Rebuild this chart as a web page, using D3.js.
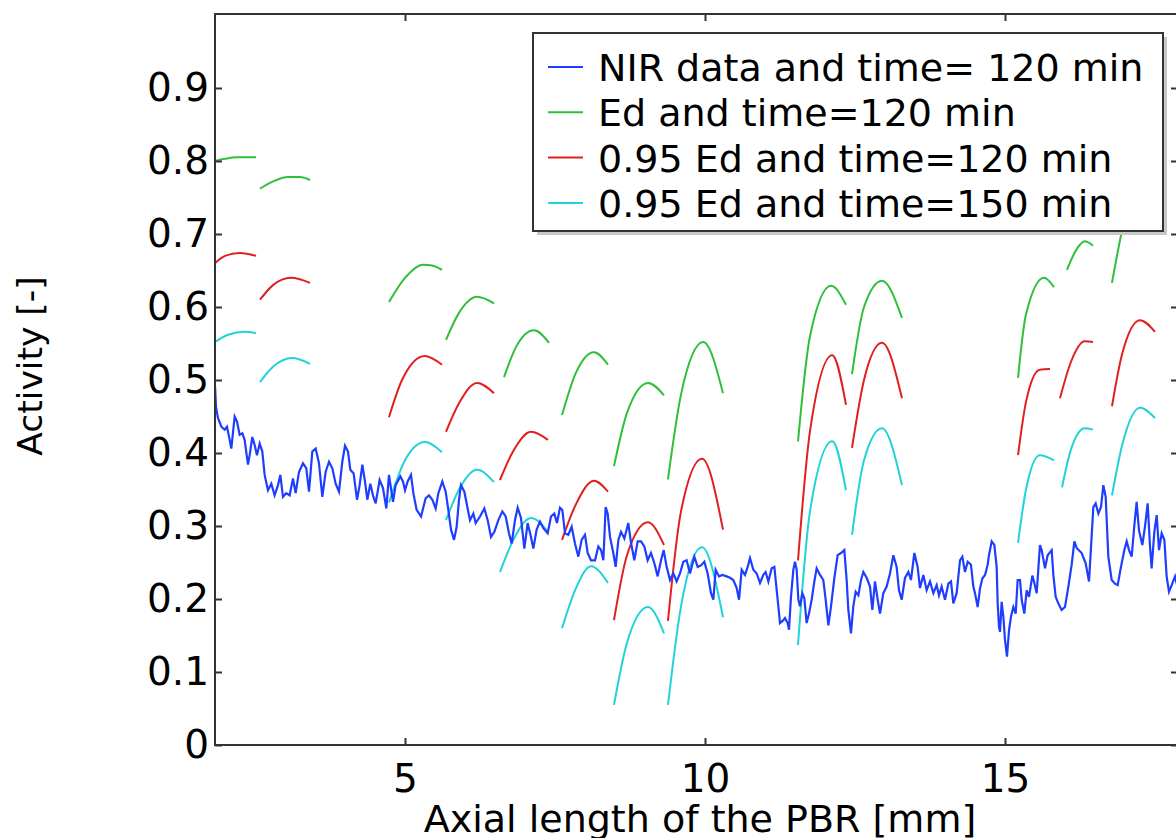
<!DOCTYPE html>
<html lang="en">
<head>
  <meta charset="UTF-8">
  <script src="https://d3js.org/d3.v7.min.js"></script>
  <title>Activity</title>
  <style>
    body { margin: 0; background: #fff; }
    text { font-family: "DejaVu Sans", sans-serif; fill: #000; }
  </style>
</head>
<body>
  <script>
    // NIR measurement, [axial length mm, activity]
    const nirData = [
      [1.835,0.490],[1.85,0.463],[1.883,0.448],[1.939,0.436],[1.994,0.432],[2.033,0.436],[2.078,0.418],[2.105,0.406],
      [2.161,0.450],[2.2,0.443],[2.244,0.425],[2.289,0.427],[2.327,0.418],[2.383,0.384],[2.411,0.397],[2.455,0.422],
      [2.494,0.411],[2.533,0.397],[2.578,0.413],[2.622,0.402],[2.661,0.370],[2.716,0.349],[2.772,0.358],[2.827,0.342],
      [2.883,0.356],[2.922,0.370],[2.966,0.340],[3.022,0.345],[3.077,0.342],[3.133,0.365],[3.177,0.345],[3.233,0.374],
      [3.3,0.386],[3.355,0.379],[3.4,0.347],[3.455,0.402],[3.511,0.406],[3.566,0.386],[3.622,0.340],[3.677,0.374],
      [3.733,0.388],[3.789,0.379],[3.844,0.358],[3.9,0.347],[3.955,0.388],[4.0,0.410],[4.05,0.402],[4.089,0.377],
      [4.144,0.372],[4.2,0.336],[4.244,0.356],[4.289,0.384],[4.333,0.361],[4.372,0.336],[4.422,0.358],[4.466,0.342],
      [4.511,0.331],[4.577,0.363],[4.633,0.352],[4.689,0.324],[4.733,0.370],[4.8,0.333],[4.844,0.356],[4.922,0.368],
      [4.966,0.361],[5.0,0.349],[5.044,0.361],[5.1,0.370],[5.139,0.345],[5.194,0.322],[5.267,0.313],[5.344,0.338],
      [5.4,0.342],[5.456,0.336],[5.511,0.324],[5.556,0.345],[5.622,0.361],[5.678,0.347],[5.722,0.322],[5.767,0.295],
      [5.817,0.281],[5.861,0.299],[5.9,0.336],[5.933,0.356],[5.989,0.347],[6.044,0.324],[6.083,0.308],[6.139,0.317],
      [6.178,0.304],[6.25,0.313],[6.322,0.324],[6.378,0.308],[6.433,0.285],[6.489,0.292],[6.556,0.308],[6.622,0.320],
      [6.678,0.313],[6.733,0.290],[6.778,0.276],[6.833,0.308],[6.878,0.325],[6.933,0.311],[6.989,0.269],[7.044,0.304],
      [7.1,0.285],[7.139,0.269],[7.194,0.295],[7.25,0.306],[7.306,0.297],[7.378,0.290],[7.433,0.313],[7.489,0.317],
      [7.533,0.304],[7.583,0.325],[7.622,0.322],[7.667,0.290],[7.722,0.288],[7.778,0.299],[7.833,0.276],[7.889,0.258],
      [7.944,0.281],[8.0,0.288],[8.044,0.263],[8.1,0.253],[8.167,0.253],[8.222,0.272],[8.267,0.267],[8.306,0.253],
      [8.344,0.326],[8.378,0.317],[8.417,0.285],[8.472,0.263],[8.511,0.244],[8.556,0.281],[8.6,0.292],[8.656,0.283],
      [8.722,0.304],[8.767,0.277],[8.822,0.253],[8.878,0.279],[8.933,0.279],[8.989,0.272],[9.044,0.253],[9.1,0.263],
      [9.156,0.249],[9.211,0.231],[9.267,0.253],[9.311,0.267],[9.361,0.244],[9.417,0.226],[9.472,0.235],[9.528,0.224],
      [9.583,0.235],[9.639,0.251],[9.694,0.253],[9.75,0.235],[9.822,0.258],[9.878,0.244],[9.933,0.246],[9.989,0.251],
      [10.044,0.235],[10.1,0.208],[10.139,0.199],[10.178,0.240],[10.233,0.231],[10.289,0.233],[10.361,0.231],[10.417,0.229],
      [10.472,0.226],[10.528,0.215],[10.567,0.199],[10.611,0.240],[10.667,0.233],[10.711,0.244],[10.75,0.256],[10.806,0.240],
      [10.861,0.235],[10.917,0.222],[10.972,0.233],[11.011,0.237],[11.056,0.224],[11.111,0.242],[11.156,0.244],[11.211,0.199],
      [11.25,0.167],[11.306,0.171],[11.333,0.174],[11.378,0.167],[11.4,0.158],[11.433,0.203],[11.472,0.240],[11.5,0.251],
      [11.528,0.240],[11.556,0.199],[11.583,0.190],[11.622,0.208],[11.656,0.201],[11.694,0.167],[11.733,0.180],[11.778,0.199],
      [11.822,0.224],[11.861,0.242],[11.917,0.233],[11.972,0.226],[12.011,0.199],[12.056,0.164],[12.1,0.190],[12.156,0.229],
      [12.211,0.260],[12.267,0.263],[12.322,0.267],[12.361,0.226],[12.389,0.185],[12.433,0.153],[12.472,0.190],[12.511,0.210],
      [12.556,0.205],[12.6,0.226],[12.639,0.237],[12.694,0.229],[12.75,0.217],[12.789,0.185],[12.833,0.224],[12.878,0.199],
      [12.917,0.180],[12.972,0.208],[13.028,0.217],[13.083,0.235],[13.139,0.260],[13.194,0.244],[13.233,0.212],[13.278,0.199],
      [13.333,0.229],[13.389,0.237],[13.433,0.226],[13.489,0.263],[13.544,0.244],[13.583,0.215],[13.639,0.233],[13.694,0.212],
      [13.75,0.224],[13.806,0.208],[13.861,0.219],[13.9,0.205],[13.944,0.217],[14.0,0.199],[14.056,0.221],[14.1,0.224],
      [14.139,0.194],[14.194,0.208],[14.25,0.253],[14.289,0.258],[14.333,0.237],[14.378,0.251],[14.433,0.247],[14.472,0.217],
      [14.5,0.208],[14.544,0.189],[14.583,0.214],[14.622,0.228],[14.667,0.233],[14.711,0.247],[14.733,0.260],[14.778,0.279],
      [14.822,0.274],[14.861,0.244],[14.878,0.194],[14.9,0.162],[14.917,0.155],[14.944,0.196],[14.972,0.176],[15.0,0.144],
      [15.033,0.121],[15.067,0.157],[15.1,0.176],[15.139,0.189],[15.178,0.180],[15.211,0.226],[15.25,0.226],[15.278,0.199],
      [15.322,0.180],[15.361,0.212],[15.4,0.203],[15.456,0.232],[15.489,0.222],[15.528,0.208],[15.583,0.274],[15.611,0.267],
      [15.667,0.242],[15.711,0.260],[15.778,0.267],[15.806,0.233],[15.844,0.203],[15.889,0.194],[15.944,0.185],[16.0,0.189],
      [16.056,0.217],[16.111,0.247],[16.156,0.279],[16.194,0.270],[16.278,0.263],[16.344,0.249],[16.4,0.224],[16.433,0.270],
      [16.472,0.326],[16.511,0.331],[16.556,0.317],[16.6,0.326],[16.639,0.356],[16.678,0.340],[16.722,0.258],[16.778,0.226],
      [16.833,0.221],[16.878,0.219],[16.933,0.244],[16.989,0.267],[17.028,0.279],[17.067,0.267],[17.111,0.258],[17.156,0.301],
      [17.194,0.333],[17.233,0.294],[17.289,0.274],[17.333,0.299],[17.378,0.331],[17.417,0.272],[17.444,0.242],[17.489,0.292],
      [17.528,0.315],[17.567,0.267],[17.611,0.290],[17.656,0.281],[17.694,0.231],[17.733,0.210],[17.778,0.219],[17.833,0.231],
      [17.88,0.215]
    ]

    // Ed model, time = 120 min (one piece per segment)
    const edArcs = [
      [[1.833,0.800],[2.0,0.803],[2.2,0.805],[2.517,0.805]],
      [[2.583,0.762],[2.8,0.772],[3.05,0.778],[3.25,0.778],[3.417,0.774]],
      [[4.733,0.607],[5.0,0.640],[5.3,0.658],[5.45,0.657],[5.617,0.651]],
      [[5.683,0.555],[5.9,0.592],[6.2,0.614],[6.483,0.605]],
      [[6.65,0.504],[6.85,0.545],[7.15,0.568],[7.4,0.551]],
      [[7.617,0.452],[7.85,0.510],[8.15,0.538],[8.383,0.521]],
      [[8.483,0.382],[8.7,0.455],[9.05,0.496],[9.317,0.479]],
      [[9.383,0.364],[9.6,0.480],[9.97,0.552],[10.3,0.482]],
      [[11.55,0.416],[11.75,0.560],[12.1,0.629],[12.35,0.603]],
      [[12.45,0.508],[12.65,0.600],[12.95,0.636],[13.283,0.585]],
      [[15.217,0.503],[15.35,0.590],[15.65,0.640],[15.817,0.627]],
      [[16.033,0.651],[16.2,0.680],[16.33,0.690],[16.467,0.684]],
      [[16.783,0.633],[16.95,0.704],[17.2,0.770],[17.5,0.780]]
    ]

    // 0.95 Ed, time = 120 min
    const ed95Arcs120 = [
      [[1.833,0.660],[2.0,0.670],[2.25,0.674],[2.517,0.670]],
      [[2.583,0.610],[2.8,0.630],[3.1,0.640],[3.417,0.633]],
      [[4.733,0.449],[4.95,0.500],[5.33,0.533],[5.617,0.521]],
      [[5.683,0.429],[5.9,0.468],[6.2,0.496],[6.483,0.482]],
      [[6.583,0.363],[6.8,0.402],[7.1,0.429],[7.383,0.418]],
      [[7.617,0.281],[7.85,0.330],[8.15,0.362],[8.383,0.347]],
      [[8.483,0.171],[8.7,0.260],[9.05,0.305],[9.317,0.274]],
      [[9.383,0.170],[9.6,0.320],[9.95,0.392],[10.3,0.295]],
      [[11.55,0.253],[11.75,0.430],[12.12,0.534],[12.35,0.466]],
      [[12.45,0.407],[12.65,0.500],[12.95,0.551],[13.283,0.475]],
      [[15.217,0.397],[15.35,0.470],[15.58,0.514],[15.75,0.515]],
      [[15.917,0.475],[16.1,0.525],[16.33,0.553],[16.467,0.552]],
      [[16.783,0.464],[16.95,0.535],[17.25,0.582],[17.5,0.566]]
    ]

    // 0.95 Ed, time = 150 min
    const ed95Arcs150 = [
      [[1.833,0.552],[2.05,0.562],[2.33,0.566],[2.517,0.564]],
      [[2.583,0.497],[2.8,0.518],[3.12,0.530],[3.417,0.522]],
      [[4.733,0.332],[5.0,0.390],[5.33,0.415],[5.617,0.401]],
      [[5.683,0.308],[5.9,0.350],[6.2,0.377],[6.483,0.360]],
      [[6.583,0.237],[6.8,0.280],[7.1,0.311],[7.383,0.292]],
      [[7.617,0.160],[7.85,0.215],[8.1,0.245],[8.383,0.222]],
      [[8.483,0.055],[8.7,0.140],[9.05,0.189],[9.317,0.153]],
      [[9.383,0.055],[9.6,0.190],[9.95,0.271],[10.3,0.175]],
      [[11.55,0.137],[11.75,0.320],[12.12,0.416],[12.35,0.349]],
      [[12.45,0.288],[12.65,0.390],[12.95,0.434],[13.283,0.356]],
      [[15.217,0.277],[15.35,0.350],[15.58,0.397],[15.817,0.390]],
      [[15.95,0.353],[16.1,0.405],[16.33,0.434],[16.467,0.432]],
      [[16.783,0.342],[16.95,0.410],[17.25,0.462],[17.5,0.448]]
    ]

    const legendLabels = ["NIR data and time= 120 min", "Ed and time=120 min", "0.95 Ed and time=120 min", "0.95 Ed and time=150 min"]
    const xTicks = [5, 10, 15]
    const yTicks = [0, 0.1, 0.2, 0.3, 0.4, 0.5, 0.6, 0.7, 0.8, 0.9]

    const colors = ["#1f3dff", "#2fbf3a", "#e0201f", "#1fd3d8"]

    let dimension = {
      width: 1176,
      height: 838,
      margin: { top: 14, left: 215, right: 1178, bottom: 745 }
    }

    const svg = d3.select("body")
        .append("svg")
        .attr("width", dimension.width)
        .attr("height", dimension.height)

    const xScale = d3.scaleLinear()
        .domain([1.8333, 17.8833])
        .range([dimension.margin.left, dimension.margin.right])

    const yScale = d3.scaleLinear()
        .domain([0, 1])
        .range([dimension.margin.bottom, 15])

    svg.append("clipPath").attr("id", "plot")
      .append("rect")
        .attr("x", dimension.margin.left)
        .attr("y", dimension.margin.top)
        .attr("width", dimension.margin.right - dimension.margin.left)
        .attr("height", dimension.margin.bottom - dimension.margin.top)

    const plot = svg.append("g").attr("clip-path", "url(#plot)")

    const lineGenerator = d3.line()
        .x(d => xScale(d[0]))
        .y(d => yScale(d[1]))

    const arcGenerator = d3.line()
        .x(d => xScale(d[0]))
        .y(d => yScale(d[1]))
        .curve(d3.curveMonotoneX)

    // model pieces
    const arcSets = [edArcs, ed95Arcs120, ed95Arcs150]
    arcSets.forEach((set, i) => {
      plot.selectAll(null)
        .data(set)
        .join("path")
          .attr("d", arcGenerator)
          .attr("fill", "none")
          .attr("stroke", colors[i + 1])
          .attr("stroke-width", 2)
    })

    plot.append("path")
        .attr("d", lineGenerator(nirData))
        .attr("fill", "none")
        .attr("stroke", colors[0])
        .attr("stroke-width", 2.2)

    // axes, ticks pointing inward
    const frameColor = "#333"
    const styleAxis = g => {
      g.select(".domain").remove()
      g.selectAll(".tick line").attr("stroke", frameColor).attr("stroke-width", 2)
      g.selectAll(".tick text").style("font-size", "39px").attr("fill", "#000")
    }

    svg.append("g")
        .attr("transform", `translate(0, ${dimension.margin.bottom})`)
        .call(d3.axisBottom(xScale).tickValues(xTicks).tickSizeInner(-7).tickSizeOuter(0).tickPadding(19).tickFormat(d3.format("d")))
        .call(styleAxis)

    svg.append("g")
        .attr("transform", `translate(0, ${dimension.margin.top})`)
        .call(d3.axisTop(xScale).tickValues(xTicks).tickSizeInner(-7).tickSizeOuter(0).tickFormat(""))
        .call(styleAxis)

    svg.append("g")
        .attr("transform", `translate(${dimension.margin.left}, 0)`)
        .call(d3.axisLeft(yScale).tickValues(yTicks).tickSizeInner(-7).tickSizeOuter(0).tickPadding(6).tickFormat(d3.format(".1~f")))
        .call(styleAxis)

    svg.append("g")
        .attr("transform", `translate(${dimension.margin.right}, 0)`)
        .call(d3.axisRight(yScale).tickValues(yTicks).tickSizeInner(-7).tickSizeOuter(0).tickFormat(""))
        .call(styleAxis)

    svg.append("rect")
        .attr("x", dimension.margin.left)
        .attr("y", dimension.margin.top)
        .attr("width", dimension.margin.right - dimension.margin.left)
        .attr("height", dimension.margin.bottom - dimension.margin.top)
        .attr("fill", "none")
        .attr("stroke", frameColor)
        .attr("stroke-width", 2)

    // axis titles
    svg.append("text")
        .attr("x", 700)
        .attr("y", 832)
        .attr("text-anchor", "middle")
        .style("font-size", "38px")
        .text("Axial length of the PBR [mm]")

    svg.append("text")
        .attr("transform", "translate(42, 366) rotate(-90)")
        .attr("text-anchor", "middle")
        .style("font-size", "34.5px")
        .text("Activity [-]")

    // legend
    const legend = svg.append("g")
    legend.append("rect")
        .attr("x", 537).attr("y", 37).attr("width", 630).attr("height", 198)
        .attr("fill", "#c8c8c8")
    legend.append("rect")
        .attr("x", 533).attr("y", 33).attr("width", 630).attr("height", 198)
        .attr("fill", "#fff").attr("stroke", frameColor).attr("stroke-width", 2)

    const rows = legend.selectAll(".row")
      .data(legendLabels)
      .join("g")
        .attr("transform", (d, i) => `translate(548, ${67 + i * 45.3})`)

    rows.append("line")
        .attr("x1", 0).attr("x2", 35)
        .attr("stroke", (d, i) => colors[i])
        .attr("stroke-width", 2)

    rows.append("text")
        .attr("x", 50)
        .attr("y", 14)
        .style("font-size", "38px")
        .text(d => d)
  </script>
</body>
</html>
